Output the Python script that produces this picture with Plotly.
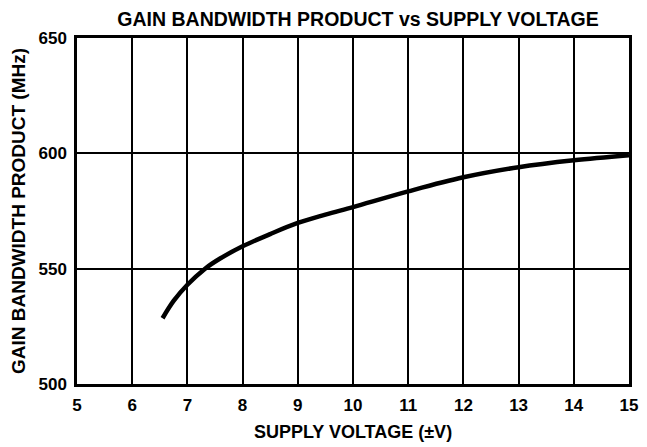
import plotly.graph_objects as go

supply_v = [6.55, 6.75, 7.0, 7.32, 7.6, 8.0, 8.5, 9.0, 9.5, 10.0, 11.0, 12.0, 13.0, 14.0, 15.0]
gbw_mhz = [528.5, 536.0, 543.0, 550.0, 554.5, 559.7, 565.0, 569.8, 573.4, 576.7, 583.5, 589.6, 594.0, 597.0, 599.2]
x_ticks = list(range(5, 16))
y_ticks = [500, 550, 600, 650]

FONT = "Liberation Sans"
W, H = 647, 447
L, R, T, B = 77, 18, 38, 63

fig = go.Figure()
fig.add_trace(go.Scatter(x=supply_v, y=gbw_mhz, mode="lines",
                         line=dict(color="black", width=4.5, shape="spline"),
                         showlegend=False, hoverinfo="skip"))

fig.update_layout(
    width=W, height=H,
    margin=dict(l=L, r=R, t=T, b=B, autoexpand=False),
    paper_bgcolor="white", plot_bgcolor="white",
    title=dict(text="<b>GAIN BANDWIDTH PRODUCT vs SUPPLY VOLTAGE</b>",
               x=358/W, xanchor="center", y=1-19/H, yanchor="middle",
               font=dict(family=FONT, size=19.5, color="black", weight="bold")),
    font=dict(family=FONT, color="black"),
)
fig.update_xaxes(range=[5, 15], tickvals=x_ticks, ticktext=[f"<b>{v}</b>" for v in x_ticks],
                 showgrid=True, gridcolor="black", gridwidth=2,
                 showline=True, linecolor="black", linewidth=2.5, mirror=True,
                 ticks="", zeroline=False, automargin=False, ticklabelstandoff=4,
                 tickfont=dict(family=FONT, size=17, color="black", weight="bold"),
                 title=dict(text="<b>SUPPLY VOLTAGE (±V)</b>", standoff=12,
                            font=dict(family=FONT, size=18, color="black", weight="bold")))
fig.update_yaxes(range=[500, 650], tickvals=y_ticks, ticktext=[f"<b>{v}</b>" for v in y_ticks],
                 showgrid=True, gridcolor="black", gridwidth=2,
                 showline=True, linecolor="black", linewidth=2.5, mirror=True,
                 ticks="", zeroline=False, automargin=False, ticklabelstandoff=4,
                 tickfont=dict(family=FONT, size=17, color="black", weight="bold"),
                 title=dict(text="<b>GAIN BANDWIDTH PRODUCT (MHz)</b>", standoff=8,
                            font=dict(family=FONT, size=19, color="black", weight="bold")))

fig.write_html("out.html", config={"displayModeBar": False},
               post_script="document.body.style.margin='0';document.body.style.overflow='hidden';")
